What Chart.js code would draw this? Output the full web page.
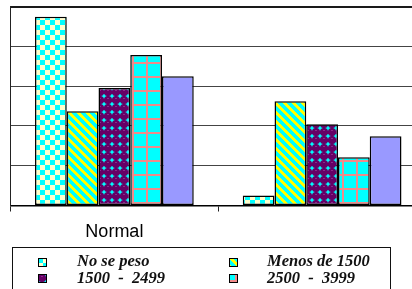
<!DOCTYPE html>
<html>
<head>
<meta charset="utf-8">
<script src="https://cdn.jsdelivr.net/npm/chart.js@4"></script>
<style>
  html, body { margin: 0; padding: 0; background: #fff; overflow: hidden; width: 412px; height: 289px; }
  #wrap { position: absolute; left: 0; top: 0; width: 430px; height: 289px; }
  #legend {
    position: absolute; left: 12px; top: 247px; width: 379px; height: 60px;
    border: 1.5px solid #111; box-sizing: border-box;
  }
  .lg-mark { position: absolute; width: 9px; height: 9px; }
  .lg-text {
    position: absolute; font-family: 'Liberation Serif', serif; font-weight: bold; font-style: italic;
    font-size: 16.5px; line-height: 16.5px; white-space: pre; color: #111;
  }
</style>
</head>
<body>
<div id="wrap"><canvas id="chart"></canvas></div>
<div id="legend"></div>
<script>
// Datos del gráfico
const categories = ['Normal', ''];
const seriesLabels = ['No se peso', 'Menos de 1500', '1500  -  2499', '2500  -  3999', '4000 y más'];
const noSePeso = [47.4, 2.5];
const menos1500 = [23.7, 26.2];
const de1500a2499 = [29.5, 20.4];
const de2500a3999 = [37.8, 12.1];
const de4000yMas = [32.5, 17.4];
const yTicks = [0, 10, 20, 30, 40, 50];

// Teselas para los rellenos con trama
const makeTile = (w, h, draw) => {
  const c = document.createElement('canvas');
  c.width = w; c.height = h;
  draw(c.getContext('2d'), w, h);
  return c;
};

const tiles = [
  makeTile(10, 10, (g) => {
    g.fillStyle = '#FFFFCC'; g.fillRect(0, 0, 10, 10);
    g.fillStyle = '#00FFFF'; g.fillRect(0, 0, 5, 5); g.fillRect(5, 5, 5, 5);
  }),
  makeTile(9, 9, (g, w, h) => {
    const img = g.createImageData(w, h);
    for (let y = 0; y < h; y++) {
      for (let x = 0; x < w; x++) {
        const i = (y * w + x) * 4;
        const yellow = (((x - y) % 9) + 9) % 9 < 4;
        img.data[i] = yellow ? 255 : 0;
        img.data[i + 1] = 255;
        img.data[i + 2] = yellow ? 0 : 255;
        img.data[i + 3] = 255;
      }
    }
    g.putImageData(img, 0, 0);
  }),
  makeTile(8, 8, (g) => {
    g.fillStyle = '#00FFFF'; g.fillRect(0, 0, 8, 8);
    g.fillStyle = '#660066';
    g.beginPath(); g.arc(4, 4, 4.1, 0, Math.PI * 2); g.fill();
    g.fillStyle = '#8a2a8a'; g.fillRect(3, 2, 2, 1);
  }),
  makeTile(14, 14, (g) => {
    g.fillStyle = '#00FFFF'; g.fillRect(0, 0, 14, 14);
    g.fillStyle = '#F08A8A'; g.fillRect(6, 0, 2, 14); g.fillRect(0, 6, 14, 2);
  }),
  null
];

const ctx = document.getElementById('chart').getContext('2d');
const fills = tiles.map(t => t ? ctx.createPattern(t, 'repeat') : '#9999FF');

const seriesData = [noSePeso, menos1500, de1500a2499, de2500a3999, de4000yMas];

new Chart(ctx, {
  type: 'bar',
  data: {
    labels: categories,
    datasets: seriesData.map((d, i) => ({
      label: seriesLabels[i],
      data: d,
      backgroundColor: fills[i],
      borderColor: '#000',
      borderWidth: 1.5,
      borderSkipped: false,
      categoryPercentage: 0.764,
      barPercentage: 1.0
    }))
  },
  options: {
    responsive: true,
    maintainAspectRatio: false,
    animation: false,
    layout: { padding: { left: 10.5, right: 4, top: 6.5, bottom: 0 } },
    plugins: { legend: { display: false }, tooltip: { enabled: false } },
    scales: {
      x: {
        grid: { drawOnChartArea: false, drawTicks: true, tickLength: 6, color: '#222' },
        border: { color: '#000', width: 1.5 },
        ticks: { color: '#000', padding: 10, font: { family: 'Liberation Sans', size: 18 } },
        afterFit: (scale) => { scale.height = 83.5; }
      },
      y: {
        min: 0,
        max: 50,
        afterBuildTicks: (scale) => { scale.ticks = yTicks.map(v => ({ value: v })); },
        ticks: { display: false },
        grid: {
          drawTicks: false,
          color: (c) => c.tick && c.tick.value === 50 ? '#1a1a1a' : '#444',
          lineWidth: (c) => c.tick && c.tick.value === 50 ? 2 : 1
        },
        border: { color: '#222', width: 1 }
      }
    }
  }
});

// Leyenda (solo las entradas visibles en el recuadro)
const legend = document.getElementById('legend');
const legendPos = [
  { mx: 25, my: 10, tx: 64, ty: 5 },
  { mx: 216, my: 10, tx: 254, ty: 5 },
  { mx: 25, my: 26, tx: 64, ty: 21.5 },
  { mx: 216, my: 26, tx: 254, ty: 21.5 }
];
legendPos.forEach((p, i) => {
  const m = document.createElement('canvas');
  m.width = 9; m.height = 9;
  m.className = 'lg-mark';
  m.style.left = p.mx + 'px';
  m.style.top = p.my + 'px';
  const g = m.getContext('2d');
  g.fillStyle = tiles[i] ? g.createPattern(tiles[i], 'repeat') : '#9999FF';
  g.fillRect(0, 0, 9, 9);
  g.strokeStyle = '#000';
  g.lineWidth = 1;
  g.strokeRect(0.5, 0.5, 8, 8);
  legend.appendChild(m);

  const t = document.createElement('span');
  t.className = 'lg-text';
  t.style.left = p.tx + 'px';
  t.style.top = p.ty + 'px';
  t.textContent = seriesLabels[i];
  legend.appendChild(t);
});
</script>
</body>
</html>
